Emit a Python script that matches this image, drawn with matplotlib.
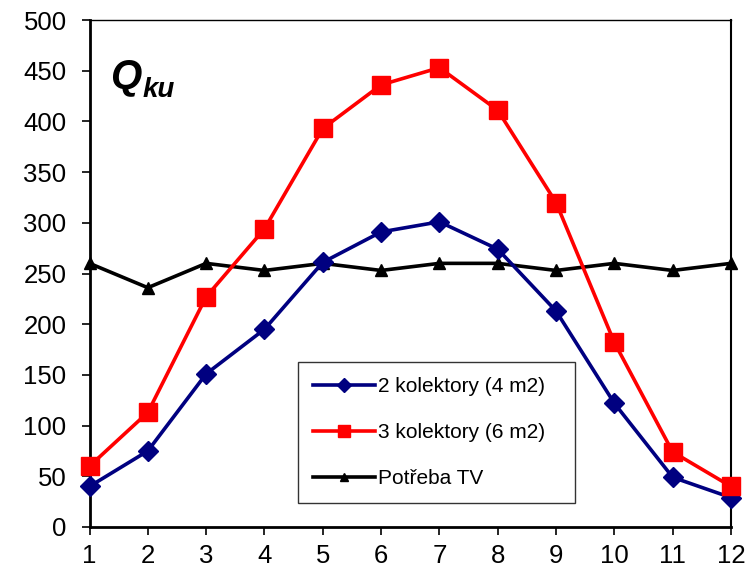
import numpy as np
import matplotlib
matplotlib.use("Agg")
import matplotlib.pyplot as plt

plt.rcParams['font.family'] = ['Liberation Sans', 'DejaVu Sans']

mesice = [1, 2, 3, 4, 5, 6, 7, 8, 9, 10, 11, 12]
kol2 = [40, 75, 151, 195, 261, 291, 301, 274, 213, 122, 49, 29]
kol3 = [60, 113, 227, 294, 393, 436, 453, 411, 320, 182, 74, 40]
potreba = [260, 236, 260, 253, 260, 253, 260, 260, 253, 260, 253, 260]
labels = ["2 kolektory (4 m2)", "3 kolektory (6 m2)", "Potřeba TV"]

fig = plt.figure(figsize=(7.55, 5.70), dpi=100)
ax = fig.add_axes([89.5/755, 43/570, 641.5/755, 507/570])

ax.plot(mesice, kol2, color='#000080', lw=2.6, marker='D', ms=10, label=labels[0], clip_on=False, zorder=3)
ax.plot(mesice, kol3, color='#ff0000', lw=2.6, marker='s', ms=13, label=labels[1], clip_on=False, zorder=4)
ax.plot(mesice, potreba, color='black', lw=2.6, marker='^', ms=9, label=labels[2], clip_on=False, zorder=2)

ax.set_xlim(1, 12)
ax.set_ylim(0, 500)
ax.set_xticks(mesice)
ax.set_yticks(np.arange(0, 501, 50))
ax.tick_params(axis='both', labelsize=18.5, direction='out', length=5.5, width=1.2)
ax.tick_params(axis='y', pad=11)
ax.tick_params(axis='x', pad=7)

for s in ['left', 'bottom']:
    ax.spines[s].set_linewidth(2)
ax.spines['right'].set_linewidth(1.5)
ax.spines['top'].set_linewidth(1)

# popisek Qku
ax.text(0.032, 0.868, 'Q', transform=ax.transAxes, fontsize=29,
        fontweight='bold', fontstyle='italic', va='baseline')
ax.text(0.083, 0.848, 'ku', transform=ax.transAxes, fontsize=20,
        fontweight='bold', fontstyle='italic', va='baseline')

leg = ax.legend(loc='upper left', bbox_to_anchor=(0.325, 0.053, 0.432, 0.272),
                mode='expand', fontsize=15, frameon=True, fancybox=False,
                edgecolor='black', handlelength=3.0, labelspacing=1.3,
                borderpad=0.7, handletextpad=0.15, borderaxespad=0,
                markerscale=0.7)
leg.get_frame().set_linewidth(1)

fig.savefig('out.png', dpi=100)
